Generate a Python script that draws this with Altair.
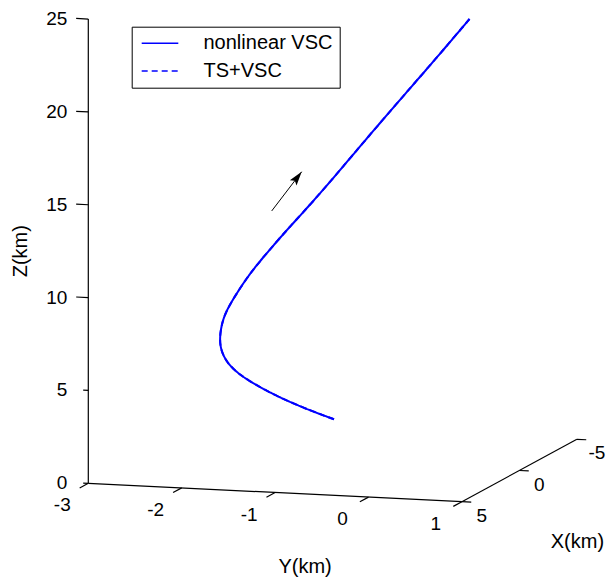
import math
import altair as alt
import pandas as pd

# ---------------- data (km) ----------------
series_names = ["nonlinear VSC", "TS+VSC"]

traj_x = [0.0, 0.0, 0.0, 0.0, 0.0, 0.0, 0.0, 0.0, 0.0, 0.0,
          0.0, 0.0, 0.0, 0.0, 0.0, 0.0, 0.0, 0.0, 0.0, 0.0]
traj_y = [-0.985, -1.207, -1.563, -1.920, -2.099, -2.187, -2.213, -2.187, -2.134, -2.027,
          -1.884, -1.706, -1.491, -1.226, -0.980, -0.739, -0.343, -0.016, 0.246, 0.466]
traj_z = [2.27, 2.62, 3.27, 4.15, 4.82, 5.52, 6.23, 7.14, 7.87, 8.79,
          9.91, 11.03, 12.33, 13.84, 15.33, 16.83, 19.26, 21.22, 22.82, 24.18]

arrow_x = [0.0, 0.0]
arrow_y = [-1.652, -1.331]
arrow_z = [13.32, 15.51]

x_ticks = [5, 0, -5]
y_ticks = [-3, -2, -1, 0, 1]
z_ticks = [0, 5, 10, 15, 20, 25]
x_lim = [5, -5]
y_lim = [-3, 1]
z_lim = [0, 25]
axis_titles = ["X(km)", "Y(km)", "Z(km)"]

FONT = "Liberation Sans"

# ---------------- 3-D view projection (screen units per km) ----------------
EX = (-11.5, -6.24)
EY = (93.4, -4.6)
EZ = (0.0, 18.57)
ORIGIN = (x_lim[0], y_lim[0], z_lim[0])


def proj(x, y, z):
    dx, dy, dz = x - ORIGIN[0], y - ORIGIN[1], z - ORIGIN[2]
    return (dx * EX[0] + dy * EY[0] + dz * EZ[0],
            dx * EX[1] + dy * EY[1] + dz * EZ[1])


U = alt.Scale(domain=[-88.3, 519.7])
V = alt.Scale(domain=[-98.7, 483.3])

# ---------------- trajectory ----------------
rows = []
for s in series_names:
    for i, (x, y, z) in enumerate(zip(traj_x, traj_y, traj_z)):
        u, v = proj(x, y, z)
        rows.append({"series": s, "i": i, "u": u, "v": v})
traj_df = pd.DataFrame(rows)

leg = alt.Legend(
    title=None, orient="none", legendX=131.7, legendY=26.7,
    padding=6.5, rowPadding=7.7,
    symbolType="M-3,0L3,0", symbolSize=149, symbolStrokeWidth=1.5,
    symbolOffset=11.8, labelOffset=33.5,
    labelFont=FONT, labelFontSize=20, labelColor="black", labelLimit=400,
    strokeColor="black", fillColor="white", cornerRadius=0,
)

traj = alt.Chart(traj_df).mark_line(strokeWidth=2, interpolate="basis").encode(
    x=alt.X("u:Q", scale=U, axis=None),
    y=alt.Y("v:Q", scale=V, axis=None),
    color=alt.Color("series:N", sort=series_names,
                    scale=alt.Scale(domain=series_names, range=["#0000ff", "#0000ff"]),
                    legend=leg),
    strokeDash=alt.StrokeDash("series:N", sort=series_names,
                              scale=alt.Scale(domain=series_names, range=[[1, 0], [6, 4]]),
                              legend=leg),
    order="i:Q",
)

# ---------------- axis lines and ticks ----------------
segs = []


def seg(p, q):
    u1, v1 = proj(*p)
    u2, v2 = proj(*q)
    segs.append({"u": u1, "v": v1, "u2": u2, "v2": v2})


x0, x1 = x_lim
y0, y1 = y_lim
z0, z1 = z_lim
seg((x0, y0, z0), (x0, y0, z1))      # Z axis
seg((x0, y0, z0), (x0, y1, z0))      # Y axis
seg((x0, y1, z0), (x1, y1, z0))      # X axis
z_tick_len = [0.055, 0.055, 0.13, 0.13, 0.13, 0.13]
for z, L in zip(z_ticks, z_tick_len):
    seg((x0, y0, z), (x0, y0 - L, z))
for y in y_ticks:
    seg((x0, y, z0), (x0 + 0.75, y, z0))
for x in x_ticks:
    seg((x, y1, z0), (x, y1 + 0.1, z0))
seg_df = pd.DataFrame(segs)

axes = alt.Chart(seg_df).mark_rule(color="black", strokeWidth=1.2).encode(
    x=alt.X("u:Q", scale=U, axis=None),
    y=alt.Y("v:Q", scale=V, axis=None),
    x2="u2:Q", y2="v2:Q",
)


def label_df(points, texts):
    out = []
    for p, t in zip(points, texts):
        u, v = proj(*p)
        out.append({"u": u, "v": v, "t": t})
    return pd.DataFrame(out)


def text_layer(df, size=19, **kw):
    return alt.Chart(df).mark_text(font=FONT, fontSize=size, color="black",
                                   baseline="middle", **kw).encode(
        x=alt.X("u:Q", scale=U, axis=None),
        y=alt.Y("v:Q", scale=V, axis=None),
        text="t:N",
    )


z_lab = text_layer(label_df([(x0, y0, z) for z in z_ticks], [str(z) for z in z_ticks]),
                   align="right", dx=-21)
y_lab = text_layer(label_df([(x0, y, z0) for y in y_ticks], [str(y) for y in y_ticks]),
                   align="center", dx=-26, dy=22)
x_lab = text_layer(label_df([(x, y1, z0) for x in x_ticks], [str(x) for x in x_ticks]),
                   align="center", dx=20, dy=14)

t_x = text_layer(label_df([(0, y1, z0)], [axis_titles[0]]), size=20, align="center", dx=58, dy=71)
t_y = text_layer(label_df([(x0, -1, z0)], [axis_titles[1]]), size=20, align="center", dx=30, dy=74)
# rotated text: dy moves it horizontally (negative = left)
t_z = text_layer(label_df([(x0, y0, 12.5)], [axis_titles[2]]), size=20, align="center", dy=-67, angle=270)

# ---------------- direction arrow ----------------
a_pts = [proj(x, y, z) for x, y, z in zip(arrow_x, arrow_y, arrow_z)]
arrow_df = pd.DataFrame([{"u": a_pts[0][0], "v": a_pts[0][1], "u2": a_pts[1][0], "v2": a_pts[1][1]}])
head_df = pd.DataFrame([{"u": a_pts[1][0], "v": a_pts[1][1]}])
du, dv = a_pts[1][0] - a_pts[0][0], a_pts[1][1] - a_pts[0][1]
ang = math.degrees(math.atan2(du, dv))

shaft = alt.Chart(arrow_df).mark_rule(color="black", strokeWidth=1).encode(
    x=alt.X("u:Q", scale=U, axis=None),
    y=alt.Y("v:Q", scale=V, axis=None),
    x2="u2:Q", y2="v2:Q",
)
head = alt.Chart(head_df).mark_point(shape="M0,0L0.6,2L0,1.6L-0.6,2Z", size=196, filled=True,
                                     color="black", opacity=1, angle=ang).encode(
    x=alt.X("u:Q", scale=U, axis=None),
    y=alt.Y("v:Q", scale=V, axis=None),
)

chart = alt.layer(axes, traj, shaft, head, z_lab, y_lab, x_lab, t_x, t_y, t_z).properties(
    width=608, height=582, padding=0, autosize="none", background="white",
).configure_view(stroke=None)

chart.save("out.html", embed_options={"renderer": "svg", "actions": False})
